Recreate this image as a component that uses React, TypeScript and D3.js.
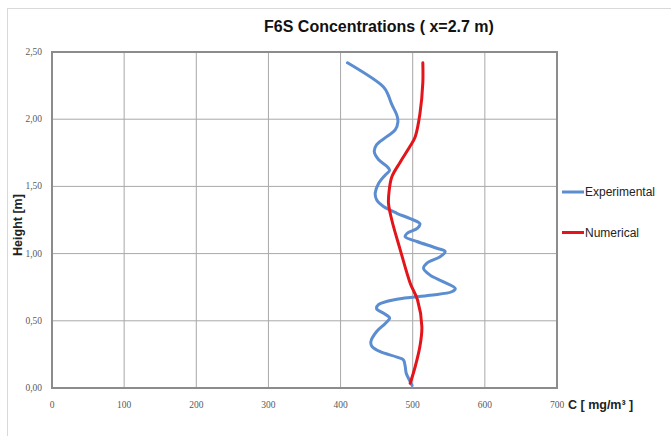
import React from "react";
import * as d3 from "d3";

const xTicks = [0, 100, 200, 300, 400, 500, 600, 700];
const yTicks = [0, 0.5, 1.0, 1.5, 2.0, 2.5];

const expHeight = [2.42, 2.24, 2.18, 2.11, 2.03, 1.98, 1.92, 1.87, 1.81, 1.76, 1.70, 1.65, 1.62, 1.585, 1.52, 1.45, 1.40, 1.35, 1.30, 1.26, 1.222, 1.19, 1.15, 1.125, 1.09, 1.04, 1.015, 0.977, 0.93, 0.89, 0.84, 0.79, 0.74, 0.716, 0.69, 0.66, 0.62, 0.59, 0.556, 0.52, 0.48, 0.42, 0.345, 0.31, 0.27, 0.23, 0.21, 0.16, 0.11, 0.047, 0.02];
const expConc = [409.6, 459.5, 466, 471, 478, 479.5, 475.7, 464, 450, 446.7, 452.5, 464, 468, 462, 452.5, 448, 450, 459.5, 478, 496.5, 510, 506.7, 492, 489.6, 505.8, 533.5, 545, 538, 519.7, 515, 524, 542.7, 559, 554, 524, 478, 452.5, 450, 459.7, 468, 462, 450, 442, 443.4, 455, 478, 487, 489.6, 491, 496.5, 499];

const numHeight = [2.42, 2.27, 2.04, 1.87, 1.80, 1.68, 1.57, 1.47, 1.375, 1.25, 1.03, 0.78, 0.655, 0.456, 0.31, 0.16, 0.035];
const numConc = [514, 514, 510, 503.5, 496.5, 482.6, 471, 467.4, 466.4, 471, 482.6, 496.5, 506.7, 512.7, 510, 503.5, 496.5];

const series = [
  { name: "Experimental", color: "#5B8DD0", h: expHeight, c: expConc },
  { name: "Numerical", color: "#E3151B", h: numHeight, c: numConc },
];

export default function App() {
  const x = d3.scaleLinear().domain([0, 700]).range([52, 557]);
  const y = d3.scaleLinear().domain([0, 2.5]).range([388, 52]);
  const fmt = (v: number) => v.toFixed(2).replace(".", ",");

  const line = (s: typeof series[0]) =>
    d3
      .line<number>()
      .x((_, i) => x(s.c[i]))
      .y((d) => y(d))
      .curve(d3.curveCatmullRom.alpha(0.5))(s.h) as string;

  return (
    <svg
      width={671}
      height={436}
      style={{ position: "absolute", left: 0, top: 0, background: "#fff" }}
    >
      <rect x={0} y={0} width={671} height={436} fill="#fff" />
      <rect x={7.5} y={8.5} width={720} height={500} fill="none" stroke="#D9D9D9" strokeWidth={1} />
      <text
        x={379}
        y={32}
        textAnchor="middle"
        fontFamily="'Liberation Sans', Arial, sans-serif"
        fontWeight="bold"
        fontSize={16}
        fill="#111"
      >
        F6S Concentrations ( x=2.7 m)
      </text>

      {xTicks.map((t) => (
        <line key={"gx" + t} x1={x(t)} x2={x(t)} y1={y(0)} y2={y(2.5)} stroke="#A8A8A8" strokeWidth={1} />
      ))}
      {yTicks.map((t) => (
        <line key={"gy" + t} x1={x(0)} x2={x(700)} y1={y(t)} y2={y(t)} stroke="#A8A8A8" strokeWidth={1} />
      ))}
      <rect x={x(0)} y={y(2.5)} width={x(700) - x(0)} height={y(0) - y(2.5)} fill="none" stroke="#8C8C8C" strokeWidth={2} />

      {yTicks.map((t) => (
        <text key={"ty" + t} x={42} y={y(t) + 3} textAnchor="end" fontFamily="'Liberation Serif', serif" fontSize={9.5} fill="#595959">
          {fmt(t)}
        </text>
      ))}
      {xTicks.map((t) => (
        <text key={"tx" + t} x={x(t)} y={408} textAnchor="middle" fontFamily="'Liberation Serif', serif" fontSize={9.5} fill="#595959">
          {t}
        </text>
      ))}

      <text
        transform={`translate(22,225) rotate(-90)`}
        textAnchor="middle"
        fontFamily="'Liberation Sans', Arial, sans-serif"
        fontWeight="bold"
        fontSize={12.5}
        fill="#222"
      >
        Height [m]
      </text>
      <text x={568} y={409} fontFamily="'Liberation Sans', Arial, sans-serif" fontWeight="bold" fontSize={12.5} fill="#222">
        C [ mg/m³ ]
      </text>

      {series.map((s) => (
        <path key={s.name} d={line(s)} fill="none" stroke={s.color} strokeWidth={3} strokeLinejoin="round" strokeLinecap="round" />
      ))}

      {series.map((s, i) => (
        <g key={"lg" + s.name} transform={`translate(0,${192 + i * 40.5})`}>
          <line x1={562} x2={584} y1={0} y2={0} stroke={s.color} strokeWidth={3} />
          <text x={585} y={4} fontFamily="'Liberation Sans', Arial, sans-serif" fontSize={12} fill="#222">
            {s.name}
          </text>
        </g>
      ))}
    </svg>
  );
}
